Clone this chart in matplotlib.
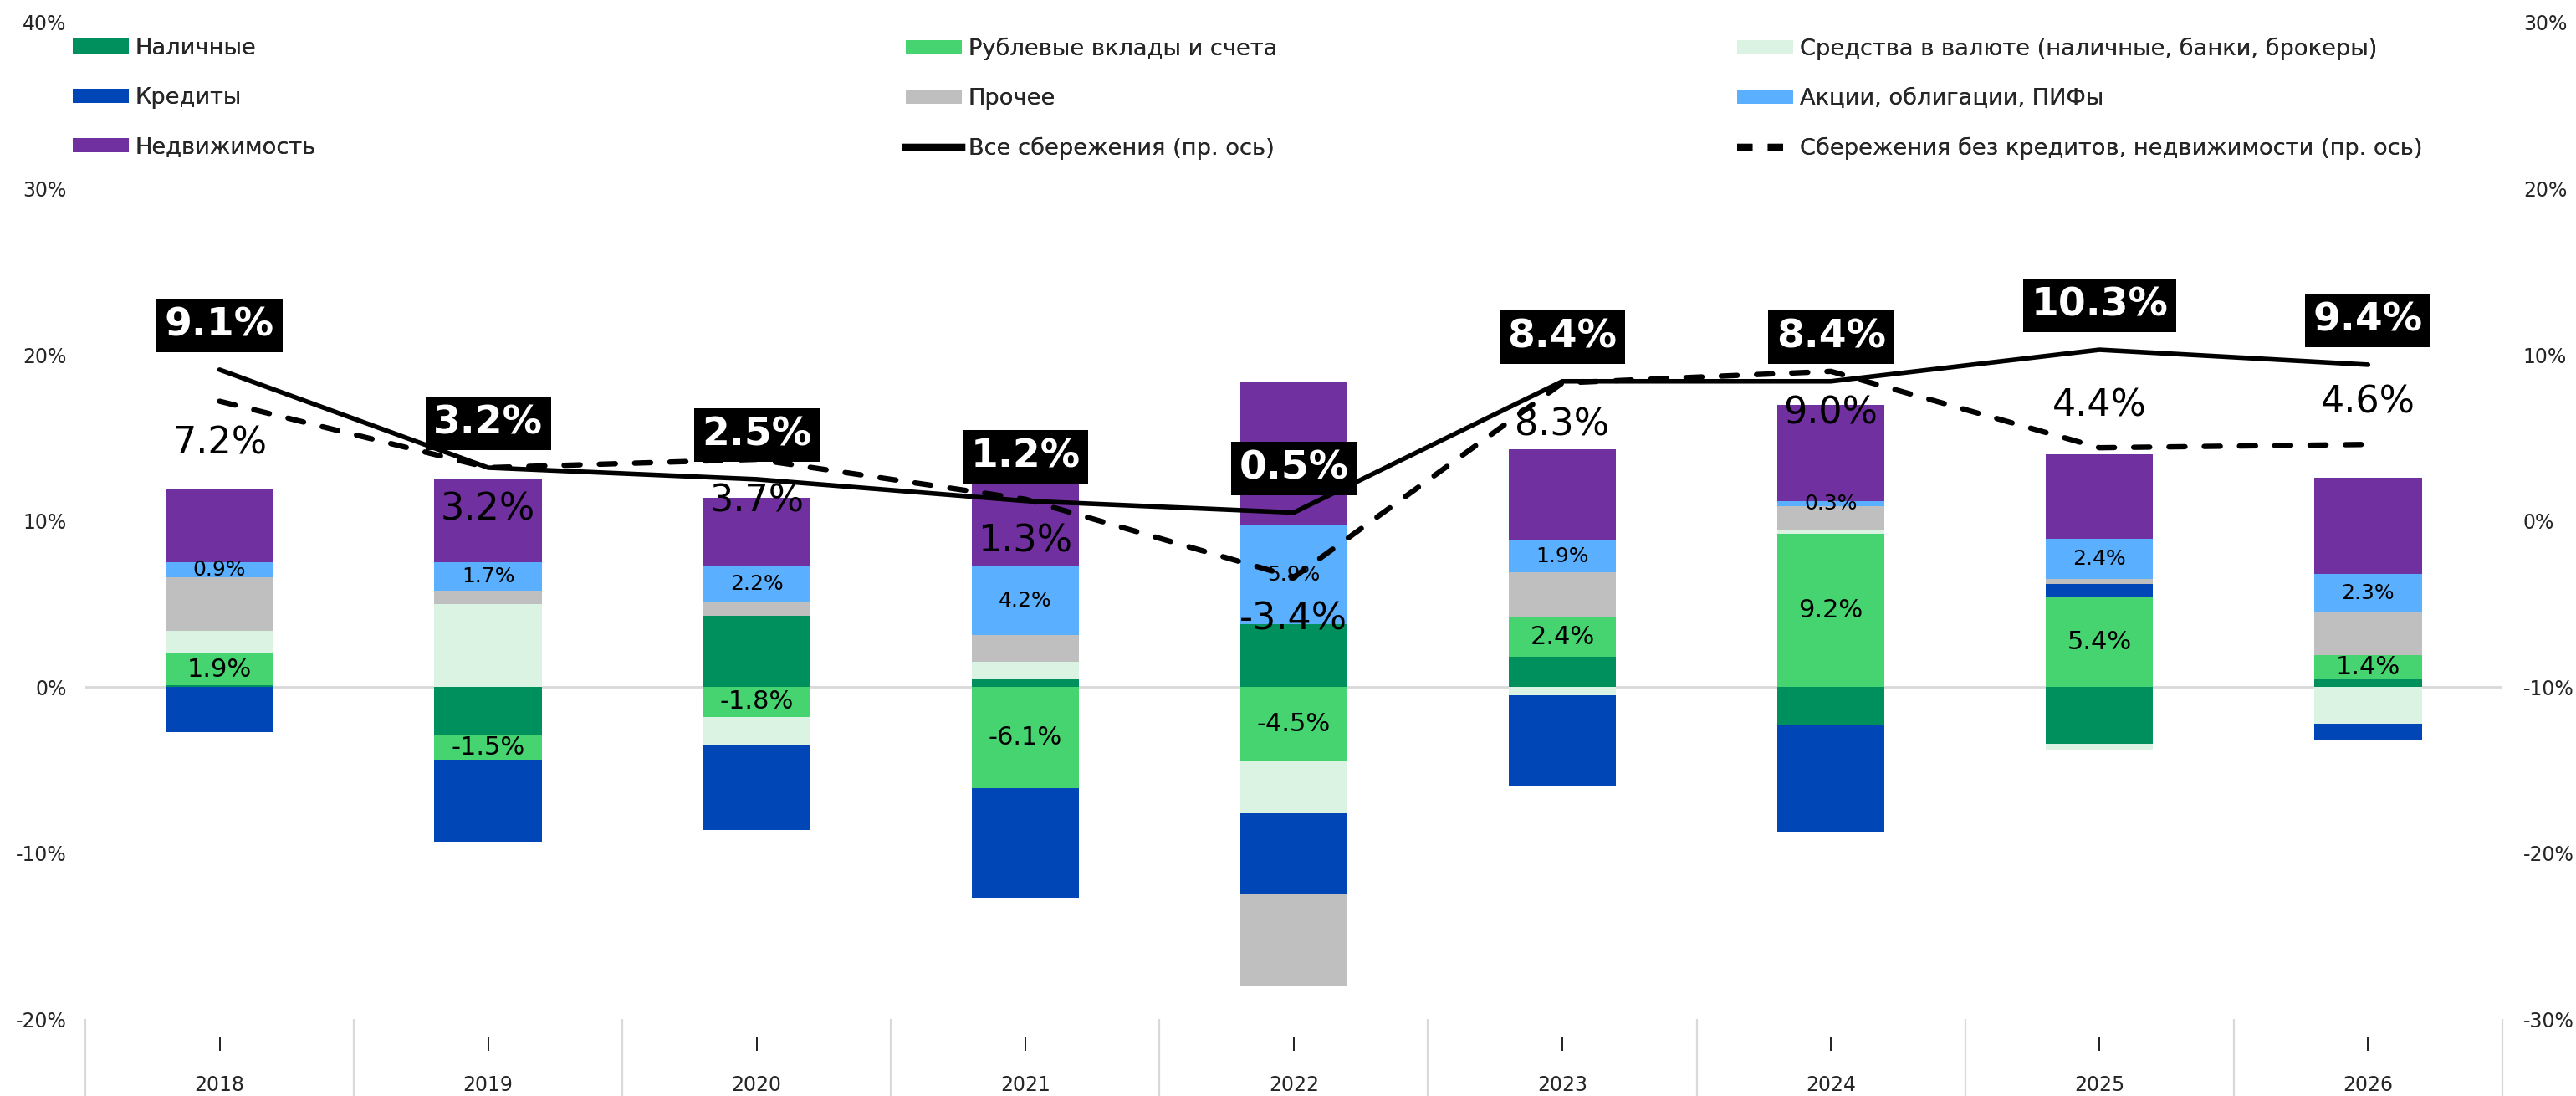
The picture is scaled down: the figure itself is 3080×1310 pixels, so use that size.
import matplotlib
matplotlib.use("Agg")
import matplotlib.pyplot as plt
import matplotlib.transforms as mtransforms
from matplotlib.patches import Patch
from matplotlib.lines import Line2D
import numpy as np

years = ["2018", "2019", "2020", "2021", "2022", "2023", "2024", "2025", "2026"]

# components, % (left axis)
cash = [0.1, -2.9, 4.3, 0.5, 3.8, 1.8, -2.3, -3.4, 0.5]
rub_deposits = [1.9, -1.5, -1.8, -6.1, -4.5, 2.4, 9.2, 5.4, 1.4]
fx_funds = [1.4, 5.0, -1.7, 1.0, -3.1, -0.5, 0.2, -0.4, -2.2]
credits = [-2.7, -4.9, -5.1, -6.6, -4.9, -5.5, -6.4, 0.8, -1.0]
other = [3.2, 0.8, 0.8, 1.6, -5.5, 2.7, 1.5, 0.3, 2.6]
securities = [0.9, 1.7, 2.2, 4.2, 5.9, 1.9, 0.3, 2.4, 2.3]
real_estate = [4.4, 5.0, 4.1, 6.5, 8.7, 5.5, 5.8, 5.1, 5.8]

# lines, % (right axis)
all_savings = [9.1, 3.2, 2.5, 1.2, 0.5, 8.4, 8.4, 10.3, 9.4]
savings_ex = [7.2, 3.2, 3.7, 1.3, -3.4, 8.3, 9.0, 4.4, 4.6]
# where the dashed line's label sits: below (-1) or above (+1) the point
savings_ex_label_side = [-1, -1, -1, -1, -1, -1, -1, 1, 1]

series = [
    ("Наличные", cash, "#00905E"),
    ("Рублевые вклады и счета", rub_deposits, "#45D46F"),
    ("Средства в валюте (наличные, банки, брокеры)", fx_funds, "#DAF3E2"),
    ("Кредиты", credits, "#0046B7"),
    ("Прочее", other, "#BFBFBF"),
    ("Акции, облигации, ПИФы", securities, "#5AAFFF"),
    ("Недвижимость", real_estate, "#7030A0"),
]
line_all_name = "Все сбережения (пр. ось)"
line_ex_name = "Сбережения без кредитов, недвижимости (пр. ось)"

fig = plt.figure(figsize=(15.4, 6.55), dpi=200)
ax = fig.add_axes([0.0331, 0.0702, 0.9383, 0.9092])
ax2 = ax.twinx()

x = np.arange(len(years))
pos_base = np.zeros(len(years))
neg_base = np.zeros(len(years))
bar_w = 0.4
for name, vals, color in series:
    v = np.array(vals)
    bottom = np.where(v >= 0, pos_base, neg_base)
    ax.bar(x, v, bar_w, bottom=bottom, color=color, edgecolor="none", zorder=2)
    if name == "Рублевые вклады и счета":
        for i in range(len(x)):
            ax.text(x[i], bottom[i] + v[i] / 2, f"{v[i]:.1f}%", ha="center", va="center",
                    fontsize=11, color="black", zorder=3)
    if name == "Акции, облигации, ПИФы":
        for i in range(len(x)):
            ax.text(x[i], bottom[i] + v[i] / 2, f"{v[i]:.1f}%", ha="center", va="center",
                    fontsize=9, color="black", zorder=3)
    pos_base = pos_base + np.where(v >= 0, v, 0)
    neg_base = neg_base + np.where(v < 0, v, 0)

ax.axhline(0, color="#D9D9D9", lw=1.0, zorder=1)

ax.set_xlim(-0.5, len(years) - 0.5)
ax.set_ylim(-20, 40)
ax2.set_ylim(-30, 30)
ax.set_yticks(np.arange(-20, 41, 10))
ax.set_yticklabels([f"{t}%" for t in range(-20, 41, 10)])
ax2.set_yticks(np.arange(-30, 31, 10))
ax2.set_yticklabels([f"{t}%" for t in range(-30, 31, 10)])
ax.tick_params(axis="y", length=0, labelsize=8.5, pad=8, colors="#262626")
ax2.tick_params(axis="y", length=0, labelsize=8.5, pad=9, colors="#262626")

# category separators below the plot
ax.set_xticks([])
ax.set_xticks(np.arange(-0.5, len(years), 1.0), minor=True)
ax.tick_params(axis="x", which="minor", length=33, width=0.8, color="#D9D9D9", labelbottom=False)
trans = mtransforms.blended_transform_factory(ax.transData, ax.transAxes)
for i, yr in enumerate(years):
    ax.text(i, -0.027, "I", transform=trans, ha="center", va="center", fontsize=7.5, color="#262626")
    ax.text(i, -0.066, yr, transform=trans, ha="center", va="center", fontsize=8.5, color="#262626")

for a in (ax, ax2):
    for sp in a.spines.values():
        sp.set_visible(False)

# lines on the right axis
ax2.plot(x, all_savings, color="black", lw=2.0, solid_capstyle="round", zorder=4)
ax2.plot(x, savings_ex, color="black", lw=2.3, linestyle=(0, (3.0, 3.6)),
         dash_capstyle="round", zorder=4)

for i in range(len(x)):
    ax2.annotate(f"{all_savings[i]:.1f}%", (x[i], all_savings[i]), xytext=(0, 19),
                 textcoords="offset points", ha="center", va="center", fontsize=17,
                 fontweight="bold", color="white", zorder=6,
                 bbox=dict(boxstyle="square,pad=0.2", fc="black", ec="none"))
    ax2.annotate(f"{savings_ex[i]:.1f}%", (x[i], savings_ex[i]),
                 xytext=(0, 18 * savings_ex_label_side[i]),
                 textcoords="offset points", ha="center", va="center", fontsize=16,
                 color="black", zorder=6)

# legend, three columns laid out like the original
handles = {name: Patch(facecolor=color, edgecolor="none") for name, vals, color in series}
handles[line_all_name] = Line2D([], [], color="black", lw=3)
handles[line_ex_name] = Line2D([], [], color="black", lw=3, linestyle=(0, (2.2, 2.2)))
columns = [
    ["Наличные", "Кредиты", "Недвижимость"],
    ["Рублевые вклады и счета", "Прочее", line_all_name],
    ["Средства в валюте (наличные, банки, брокеры)", "Акции, облигации, ПИФы", line_ex_name],
]
col_x = [0.0282, 0.3516, 0.6744]
for cx, names in zip(col_x, columns):
    leg = fig.legend([handles[n] for n in names], names, loc="upper left",
                     bbox_to_anchor=(cx, 0.966), frameon=False, fontsize=9.8,
                     handlelength=2.45, handleheight=0.6, handletextpad=0.3,
                     labelspacing=1.22, borderpad=0, borderaxespad=0)
    for t in leg.get_texts():
        t.set_color("#262626")
    fig.add_artist(leg)

fig.savefig("out.png", dpi=200)
